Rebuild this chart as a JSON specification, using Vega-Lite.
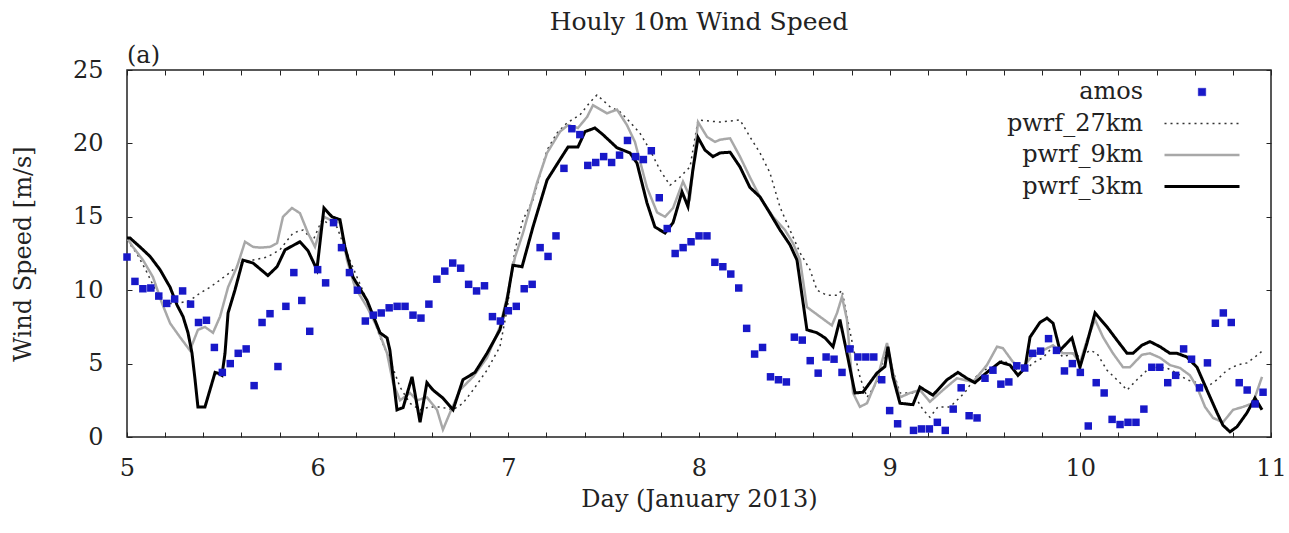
{
  "$schema": "https://vega.github.io/schema/vega-lite/v6.json",
  "width": 1144,
  "height": 367,
  "autosize": {"type": "none"},
  "padding": {"left": 127, "top": 70, "right": 18, "bottom": 96},
  "background": "white",
  "title": {"text": "Houly 10m Wind Speed", "font": "DejaVu Serif", "fontSize": 25, "fontWeight": "normal", "color": "#222", "anchor": "middle", "offset": 9},
  "config": {
    "view": {"stroke": "#222", "strokeWidth": 1.5},
    "axis": {"grid": false, "domain": false, "tickColor": "#222", "tickWidth": 1, "labelFont": "DejaVu Serif", "labelFontSize": 24, "labelColor": "#222", "titleFont": "DejaVu Serif", "titleFontSize": 24, "titleFontWeight": "normal", "titleColor": "#222"},
    "legend": {"orient": "none", "legendX": 1063, "legendY": 10, "padding": 0, "labelFont": "DejaVu Serif", "labelFontSize": 24, "labelColor": "#222", "labelAlign": "right", "labelOffset": -71, "rowPadding": 7.5}
  },
  "datasets": {
    "amos": [
      {"day":5.0,"speed":12.26,"series":"amos"},{"day":5.0417,"speed":10.6,"series":"amos"},{"day":5.0833,"speed":10.1,"series":"amos"},{"day":5.125,"speed":10.15,"series":"amos"},{"day":5.1667,"speed":9.6,"series":"amos"},{"day":5.2083,"speed":9.1,"series":"amos"},{"day":5.25,"speed":9.4,"series":"amos"},{"day":5.2917,"speed":9.95,"series":"amos"},{"day":5.3333,"speed":9.05,"series":"amos"},{"day":5.375,"speed":7.8,"series":"amos"},{"day":5.4167,"speed":7.95,"series":"amos"},{"day":5.4583,"speed":6.1,"series":"amos"},{"day":5.5,"speed":4.4,"series":"amos"},{"day":5.5417,"speed":5.0,"series":"amos"},{"day":5.5833,"speed":5.7,"series":"amos"},{"day":5.625,"speed":6.0,"series":"amos"},{"day":5.6667,"speed":3.5,"series":"amos"},{"day":5.7083,"speed":7.8,"series":"amos"},{"day":5.75,"speed":8.4,"series":"amos"},{"day":5.7917,"speed":4.8,"series":"amos"},{"day":5.8333,"speed":8.9,"series":"amos"},{"day":5.875,"speed":11.2,"series":"amos"},{"day":5.9167,"speed":9.3,"series":"amos"},{"day":5.9583,"speed":7.2,"series":"amos"},
      {"day":6.0,"speed":11.4,"series":"amos"},{"day":6.0417,"speed":10.5,"series":"amos"},{"day":6.0833,"speed":14.6,"series":"amos"},{"day":6.125,"speed":12.9,"series":"amos"},{"day":6.1667,"speed":11.2,"series":"amos"},{"day":6.2083,"speed":10.0,"series":"amos"},{"day":6.25,"speed":7.9,"series":"amos"},{"day":6.2917,"speed":8.3,"series":"amos"},{"day":6.3333,"speed":8.45,"series":"amos"},{"day":6.375,"speed":8.8,"series":"amos"},{"day":6.4167,"speed":8.9,"series":"amos"},{"day":6.4583,"speed":8.9,"series":"amos"},{"day":6.5,"speed":8.3,"series":"amos"},{"day":6.5417,"speed":8.1,"series":"amos"},{"day":6.5833,"speed":9.05,"series":"amos"},{"day":6.625,"speed":10.75,"series":"amos"},{"day":6.6667,"speed":11.3,"series":"amos"},{"day":6.7083,"speed":11.85,"series":"amos"},{"day":6.75,"speed":11.5,"series":"amos"},{"day":6.7917,"speed":10.4,"series":"amos"},{"day":6.8333,"speed":9.95,"series":"amos"},{"day":6.875,"speed":10.3,"series":"amos"},{"day":6.9167,"speed":8.2,"series":"amos"},{"day":6.9583,"speed":7.9,"series":"amos"},
      {"day":7.0,"speed":8.6,"series":"amos"},{"day":7.0417,"speed":8.9,"series":"amos"},{"day":7.0833,"speed":10.1,"series":"amos"},{"day":7.125,"speed":10.4,"series":"amos"},{"day":7.1667,"speed":12.9,"series":"amos"},{"day":7.2083,"speed":12.3,"series":"amos"},{"day":7.25,"speed":13.7,"series":"amos"},{"day":7.2917,"speed":18.3,"series":"amos"},{"day":7.3333,"speed":21.0,"series":"amos"},{"day":7.375,"speed":20.6,"series":"amos"},{"day":7.4167,"speed":18.5,"series":"amos"},{"day":7.4583,"speed":18.7,"series":"amos"},{"day":7.5,"speed":19.1,"series":"amos"},{"day":7.5417,"speed":18.7,"series":"amos"},{"day":7.5833,"speed":19.2,"series":"amos"},{"day":7.625,"speed":20.2,"series":"amos"},{"day":7.6667,"speed":19.1,"series":"amos"},{"day":7.7083,"speed":18.9,"series":"amos"},{"day":7.75,"speed":19.5,"series":"amos"},{"day":7.7917,"speed":16.3,"series":"amos"},{"day":7.8333,"speed":14.2,"series":"amos"},{"day":7.875,"speed":12.5,"series":"amos"},{"day":7.9167,"speed":12.9,"series":"amos"},{"day":7.9583,"speed":13.3,"series":"amos"},
      {"day":8.0,"speed":13.7,"series":"amos"},{"day":8.0417,"speed":13.7,"series":"amos"},{"day":8.0833,"speed":11.9,"series":"amos"},{"day":8.125,"speed":11.6,"series":"amos"},{"day":8.1667,"speed":11.1,"series":"amos"},{"day":8.2083,"speed":10.15,"series":"amos"},{"day":8.25,"speed":7.4,"series":"amos"},{"day":8.2917,"speed":5.65,"series":"amos"},{"day":8.3333,"speed":6.1,"series":"amos"},{"day":8.375,"speed":4.1,"series":"amos"},{"day":8.4167,"speed":3.9,"series":"amos"},{"day":8.4583,"speed":3.75,"series":"amos"},{"day":8.5,"speed":6.8,"series":"amos"},{"day":8.5417,"speed":6.6,"series":"amos"},{"day":8.5833,"speed":5.2,"series":"amos"},{"day":8.625,"speed":4.35,"series":"amos"},{"day":8.6667,"speed":5.45,"series":"amos"},{"day":8.7083,"speed":5.3,"series":"amos"},{"day":8.75,"speed":4.4,"series":"amos"},{"day":8.7917,"speed":6.0,"series":"amos"},{"day":8.8333,"speed":5.45,"series":"amos"},{"day":8.875,"speed":5.45,"series":"amos"},{"day":8.9167,"speed":5.45,"series":"amos"},{"day":8.9583,"speed":3.9,"series":"amos"},
      {"day":9.0,"speed":1.8,"series":"amos"},{"day":9.0417,"speed":0.9,"series":"amos"},{"day":9.125,"speed":0.45,"series":"amos"},{"day":9.1667,"speed":0.55,"series":"amos"},{"day":9.2083,"speed":0.55,"series":"amos"},{"day":9.25,"speed":1.0,"series":"amos"},{"day":9.2917,"speed":0.45,"series":"amos"},{"day":9.3333,"speed":1.9,"series":"amos"},{"day":9.375,"speed":3.35,"series":"amos"},{"day":9.4167,"speed":1.45,"series":"amos"},{"day":9.4583,"speed":1.3,"series":"amos"},{"day":9.5,"speed":4.0,"series":"amos"},{"day":9.5417,"speed":4.55,"series":"amos"},{"day":9.5833,"speed":3.6,"series":"amos"},{"day":9.625,"speed":3.75,"series":"amos"},{"day":9.6667,"speed":4.85,"series":"amos"},{"day":9.7083,"speed":4.7,"series":"amos"},{"day":9.75,"speed":5.7,"series":"amos"},{"day":9.7917,"speed":5.85,"series":"amos"},{"day":9.8333,"speed":6.7,"series":"amos"},{"day":9.875,"speed":5.9,"series":"amos"},{"day":9.9167,"speed":4.5,"series":"amos"},{"day":9.9583,"speed":5.0,"series":"amos"},
      {"day":10.0,"speed":4.4,"series":"amos"},{"day":10.0417,"speed":0.75,"series":"amos"},{"day":10.0833,"speed":3.7,"series":"amos"},{"day":10.125,"speed":3.0,"series":"amos"},{"day":10.1667,"speed":1.2,"series":"amos"},{"day":10.2083,"speed":0.85,"series":"amos"},{"day":10.25,"speed":1.0,"series":"amos"},{"day":10.2917,"speed":1.0,"series":"amos"},{"day":10.3333,"speed":1.9,"series":"amos"},{"day":10.375,"speed":4.75,"series":"amos"},{"day":10.4167,"speed":4.75,"series":"amos"},{"day":10.4583,"speed":3.7,"series":"amos"},{"day":10.5,"speed":4.2,"series":"amos"},{"day":10.5417,"speed":6.0,"series":"amos"},{"day":10.5833,"speed":5.3,"series":"amos"},{"day":10.625,"speed":3.35,"series":"amos"},{"day":10.6667,"speed":5.05,"series":"amos"},{"day":10.7083,"speed":7.75,"series":"amos"},{"day":10.75,"speed":8.45,"series":"amos"},{"day":10.7917,"speed":7.8,"series":"amos"},{"day":10.8333,"speed":3.7,"series":"amos"},{"day":10.875,"speed":3.2,"series":"amos"},{"day":10.9167,"speed":2.25,"series":"amos"},{"day":10.9583,"speed":3.05,"series":"amos"}
    ],
    "model": [
      {"day":5.0,"speed":13.4,"series":"pwrf_27km"},{"day":5.052,"speed":12.5,"series":"pwrf_27km"},{"day":5.105,"speed":11.2,"series":"pwrf_27km"},{"day":5.157,"speed":9.8,"series":"pwrf_27km"},{"day":5.21,"speed":9.1,"series":"pwrf_27km"},{"day":5.267,"speed":9.1,"series":"pwrf_27km"},{"day":5.33,"speed":9.3,"series":"pwrf_27km"},{"day":5.383,"speed":9.8,"series":"pwrf_27km"},{"day":5.435,"speed":10.2,"series":"pwrf_27km"},{"day":5.488,"speed":10.7,"series":"pwrf_27km"},{"day":5.54,"speed":11.2,"series":"pwrf_27km"},{"day":5.593,"speed":11.85,"series":"pwrf_27km"},{"day":5.661,"speed":12.05,"series":"pwrf_27km"},{"day":5.734,"speed":12.25,"series":"pwrf_27km"},{"day":5.802,"speed":12.75,"series":"pwrf_27km"},{"day":5.871,"speed":13.9,"series":"pwrf_27km"},{"day":5.923,"speed":14.1,"series":"pwrf_27km"},{"day":5.976,"speed":13.4,"series":"pwrf_27km"},{"day":6.023,"speed":14.8,"series":"pwrf_27km"},{"day":6.049,"speed":14.6,"series":"pwrf_27km"},{"day":6.101,"speed":14.3,"series":"pwrf_27km"},{"day":6.154,"speed":12.5,"series":"pwrf_27km"},{"day":6.206,"speed":10.9,"series":"pwrf_27km"},{"day":6.259,"speed":9.3,"series":"pwrf_27km"},{"day":6.327,"speed":6.8,"series":"pwrf_27km"},{"day":6.379,"speed":5.25,"series":"pwrf_27km"},{"day":6.432,"speed":3.4,"series":"pwrf_27km"},{"day":6.484,"speed":2.3,"series":"pwrf_27km"},{"day":6.537,"speed":1.85,"series":"pwrf_27km"},{"day":6.589,"speed":2.05,"series":"pwrf_27km"},{"day":6.642,"speed":2.05,"series":"pwrf_27km"},{"day":6.71,"speed":1.85,"series":"pwrf_27km"},{"day":6.762,"speed":2.3,"series":"pwrf_27km"},{"day":6.815,"speed":3.2,"series":"pwrf_27km"},{"day":6.888,"speed":4.55,"series":"pwrf_27km"},{"day":6.956,"speed":6.15,"series":"pwrf_27km"},{"day":6.993,"speed":8.65,"series":"pwrf_27km"},{"day":7.035,"speed":12.75,"series":"pwrf_27km"},{"day":7.077,"speed":14.8,"series":"pwrf_27km"},{"day":7.129,"speed":16.15,"series":"pwrf_27km"},{"day":7.203,"speed":19.55,"series":"pwrf_27km"},{"day":7.255,"speed":20.7,"series":"pwrf_27km"},{"day":7.308,"speed":21.4,"series":"pwrf_27km"},{"day":7.376,"speed":21.95,"series":"pwrf_27km"},{"day":7.428,"speed":22.8,"series":"pwrf_27km"},{"day":7.465,"speed":23.3,"series":"pwrf_27km"},{"day":7.533,"speed":22.5,"series":"pwrf_27km"},{"day":7.586,"speed":22.15,"series":"pwrf_27km"},{"day":7.638,"speed":21.45,"series":"pwrf_27km"},{"day":7.69,"speed":20.7,"series":"pwrf_27km"},{"day":7.743,"speed":19.55,"series":"pwrf_27km"},{"day":7.795,"speed":18.2,"series":"pwrf_27km"},{"day":7.848,"speed":17.15,"series":"pwrf_27km"},{"day":7.9,"speed":17.7,"series":"pwrf_27km"},{"day":7.953,"speed":18.4,"series":"pwrf_27km"},{"day":7.995,"speed":21.6,"series":"pwrf_27km"},{"day":8.11,"speed":21.45,"series":"pwrf_27km"},{"day":8.215,"speed":21.6,"series":"pwrf_27km"},{"day":8.267,"speed":20.45,"series":"pwrf_27km"},{"day":8.32,"speed":19.35,"series":"pwrf_27km"},{"day":8.372,"speed":18.0,"series":"pwrf_27km"},{"day":8.425,"speed":15.65,"series":"pwrf_27km"},{"day":8.477,"speed":14.1,"series":"pwrf_27km"},{"day":8.53,"speed":12.55,"series":"pwrf_27km"},{"day":8.582,"speed":11.4,"series":"pwrf_27km"},{"day":8.619,"speed":10.0,"series":"pwrf_27km"},{"day":8.671,"speed":9.65,"series":"pwrf_27km"},{"day":8.724,"speed":9.65,"series":"pwrf_27km"},{"day":8.75,"speed":10.0,"series":"pwrf_27km"},{"day":8.776,"speed":8.2,"series":"pwrf_27km"},{"day":8.808,"speed":6.15,"series":"pwrf_27km"},{"day":8.844,"speed":4.1,"series":"pwrf_27km"},{"day":8.881,"speed":2.7,"series":"pwrf_27km"},{"day":8.933,"speed":3.7,"series":"pwrf_27km"},{"day":8.986,"speed":6.15,"series":"pwrf_27km"},{"day":9.017,"speed":4.55,"series":"pwrf_27km"},{"day":9.054,"speed":3.0,"series":"pwrf_27km"},{"day":9.122,"speed":3.0,"series":"pwrf_27km"},{"day":9.175,"speed":1.85,"series":"pwrf_27km"},{"day":9.211,"speed":1.35,"series":"pwrf_27km"},{"day":9.253,"speed":2.05,"series":"pwrf_27km"},{"day":9.316,"speed":2.05,"series":"pwrf_27km"},{"day":9.369,"speed":2.7,"series":"pwrf_27km"},{"day":9.405,"speed":3.2,"series":"pwrf_27km"},{"day":9.437,"speed":3.9,"series":"pwrf_27km"},{"day":9.489,"speed":4.55,"series":"pwrf_27km"},{"day":9.542,"speed":4.75,"series":"pwrf_27km"},{"day":9.594,"speed":5.25,"series":"pwrf_27km"},{"day":9.647,"speed":4.75,"series":"pwrf_27km"},{"day":9.699,"speed":4.4,"series":"pwrf_27km"},{"day":9.752,"speed":5.05,"series":"pwrf_27km"},{"day":9.804,"speed":5.4,"series":"pwrf_27km"},{"day":9.857,"speed":6.15,"series":"pwrf_27km"},{"day":9.909,"speed":5.45,"series":"pwrf_27km"},{"day":9.961,"speed":5.7,"series":"pwrf_27km"},{"day":9.998,"speed":5.45,"series":"pwrf_27km"},{"day":10.051,"speed":5.9,"series":"pwrf_27km"},{"day":10.087,"speed":5.7,"series":"pwrf_27km"},{"day":10.14,"speed":4.55,"series":"pwrf_27km"},{"day":10.192,"speed":3.9,"series":"pwrf_27km"},{"day":10.245,"speed":3.2,"series":"pwrf_27km"},{"day":10.297,"speed":3.9,"series":"pwrf_27km"},{"day":10.35,"speed":4.55,"series":"pwrf_27km"},{"day":10.402,"speed":4.75,"series":"pwrf_27km"},{"day":10.454,"speed":4.7,"series":"pwrf_27km"},{"day":10.507,"speed":4.35,"series":"pwrf_27km"},{"day":10.559,"speed":3.9,"series":"pwrf_27km"},{"day":10.612,"speed":3.7,"series":"pwrf_27km"},{"day":10.664,"speed":3.4,"series":"pwrf_27km"},{"day":10.717,"speed":3.9,"series":"pwrf_27km"},{"day":10.769,"speed":4.55,"series":"pwrf_27km"},{"day":10.822,"speed":4.9,"series":"pwrf_27km"},{"day":10.874,"speed":5.05,"series":"pwrf_27km"},{"day":10.916,"speed":5.45,"series":"pwrf_27km"},{"day":10.958,"speed":5.9,"series":"pwrf_27km"},
      {"day":5.0,"speed":13.55,"series":"pwrf_9km"},{"day":5.031,"speed":12.95,"series":"pwrf_9km"},{"day":5.084,"speed":12.05,"series":"pwrf_9km"},{"day":5.136,"speed":10.9,"series":"pwrf_9km"},{"day":5.184,"speed":9.1,"series":"pwrf_9km"},{"day":5.226,"speed":7.75,"series":"pwrf_9km"},{"day":5.278,"speed":6.8,"series":"pwrf_9km"},{"day":5.33,"speed":5.9,"series":"pwrf_9km"},{"day":5.372,"speed":7.3,"series":"pwrf_9km"},{"day":5.409,"speed":7.5,"series":"pwrf_9km"},{"day":5.451,"speed":7.1,"series":"pwrf_9km"},{"day":5.488,"speed":8.2,"series":"pwrf_9km"},{"day":5.53,"speed":10.2,"series":"pwrf_9km"},{"day":5.577,"speed":11.6,"series":"pwrf_9km"},{"day":5.619,"speed":13.3,"series":"pwrf_9km"},{"day":5.661,"speed":12.95,"series":"pwrf_9km"},{"day":5.698,"speed":12.9,"series":"pwrf_9km"},{"day":5.75,"speed":12.95,"series":"pwrf_9km"},{"day":5.787,"speed":13.2,"series":"pwrf_9km"},{"day":5.818,"speed":15.0,"series":"pwrf_9km"},{"day":5.865,"speed":15.6,"series":"pwrf_9km"},{"day":5.907,"speed":15.25,"series":"pwrf_9km"},{"day":5.949,"speed":13.9,"series":"pwrf_9km"},{"day":5.986,"speed":12.95,"series":"pwrf_9km"},{"day":6.033,"speed":15.0,"series":"pwrf_9km"},{"day":6.065,"speed":14.8,"series":"pwrf_9km"},{"day":6.117,"speed":14.6,"series":"pwrf_9km"},{"day":6.154,"speed":12.05,"series":"pwrf_9km"},{"day":6.196,"speed":10.2,"series":"pwrf_9km"},{"day":6.259,"speed":8.85,"series":"pwrf_9km"},{"day":6.311,"speed":7.5,"series":"pwrf_9km"},{"day":6.364,"speed":5.7,"series":"pwrf_9km"},{"day":6.395,"speed":3.7,"series":"pwrf_9km"},{"day":6.432,"speed":2.5,"series":"pwrf_9km"},{"day":6.484,"speed":3.0,"series":"pwrf_9km"},{"day":6.521,"speed":2.5,"series":"pwrf_9km"},{"day":6.573,"speed":2.7,"series":"pwrf_9km"},{"day":6.626,"speed":1.85,"series":"pwrf_9km"},{"day":6.657,"speed":0.5,"series":"pwrf_9km"},{"day":6.694,"speed":1.65,"series":"pwrf_9km"},{"day":6.746,"speed":3.2,"series":"pwrf_9km"},{"day":6.815,"speed":4.1,"series":"pwrf_9km"},{"day":6.888,"speed":5.4,"series":"pwrf_9km"},{"day":6.956,"speed":7.5,"series":"pwrf_9km"},{"day":6.993,"speed":9.55,"series":"pwrf_9km"},{"day":7.035,"speed":12.25,"series":"pwrf_9km"},{"day":7.077,"speed":13.9,"series":"pwrf_9km"},{"day":7.15,"speed":17.3,"series":"pwrf_9km"},{"day":7.203,"speed":19.35,"series":"pwrf_9km"},{"day":7.271,"speed":20.8,"series":"pwrf_9km"},{"day":7.313,"speed":21.25,"series":"pwrf_9km"},{"day":7.365,"speed":21.05,"series":"pwrf_9km"},{"day":7.413,"speed":21.8,"series":"pwrf_9km"},{"day":7.444,"speed":22.6,"series":"pwrf_9km"},{"day":7.517,"speed":22.05,"series":"pwrf_9km"},{"day":7.57,"speed":22.3,"series":"pwrf_9km"},{"day":7.622,"speed":21.25,"series":"pwrf_9km"},{"day":7.664,"speed":20.1,"series":"pwrf_9km"},{"day":7.727,"speed":17.0,"series":"pwrf_9km"},{"day":7.78,"speed":15.3,"series":"pwrf_9km"},{"day":7.822,"speed":15.0,"series":"pwrf_9km"},{"day":7.864,"speed":15.6,"series":"pwrf_9km"},{"day":7.916,"speed":17.4,"series":"pwrf_9km"},{"day":7.953,"speed":16.35,"series":"pwrf_9km"},{"day":7.995,"speed":21.45,"series":"pwrf_9km"},{"day":8.042,"speed":20.45,"series":"pwrf_9km"},{"day":8.084,"speed":20.1,"series":"pwrf_9km"},{"day":8.11,"speed":20.25,"series":"pwrf_9km"},{"day":8.163,"speed":20.35,"series":"pwrf_9km"},{"day":8.215,"speed":19.1,"series":"pwrf_9km"},{"day":8.267,"speed":17.7,"series":"pwrf_9km"},{"day":8.32,"speed":16.35,"series":"pwrf_9km"},{"day":8.388,"speed":15.0,"series":"pwrf_9km"},{"day":8.451,"speed":14.1,"series":"pwrf_9km"},{"day":8.493,"speed":13.2,"series":"pwrf_9km"},{"day":8.53,"speed":12.05,"series":"pwrf_9km"},{"day":8.566,"speed":8.85,"series":"pwrf_9km"},{"day":8.634,"speed":8.2,"series":"pwrf_9km"},{"day":8.697,"speed":7.6,"series":"pwrf_9km"},{"day":8.724,"speed":8.45,"series":"pwrf_9km"},{"day":8.75,"speed":9.55,"series":"pwrf_9km"},{"day":8.776,"speed":8.0,"series":"pwrf_9km"},{"day":8.808,"speed":3.0,"series":"pwrf_9km"},{"day":8.844,"speed":2.05,"series":"pwrf_9km"},{"day":8.881,"speed":2.3,"series":"pwrf_9km"},{"day":8.933,"speed":3.9,"series":"pwrf_9km"},{"day":8.986,"speed":6.4,"series":"pwrf_9km"},{"day":9.017,"speed":4.4,"series":"pwrf_9km"},{"day":9.054,"speed":2.7,"series":"pwrf_9km"},{"day":9.107,"speed":3.0,"series":"pwrf_9km"},{"day":9.159,"speed":3.2,"series":"pwrf_9km"},{"day":9.211,"speed":2.4,"series":"pwrf_9km"},{"day":9.28,"speed":3.2,"series":"pwrf_9km"},{"day":9.353,"speed":4.0,"series":"pwrf_9km"},{"day":9.437,"speed":3.75,"series":"pwrf_9km"},{"day":9.51,"speed":4.9,"series":"pwrf_9km"},{"day":9.563,"speed":6.15,"series":"pwrf_9km"},{"day":9.594,"speed":6.05,"series":"pwrf_9km"},{"day":9.647,"speed":5.1,"series":"pwrf_9km"},{"day":9.699,"speed":4.75,"series":"pwrf_9km"},{"day":9.752,"speed":5.6,"series":"pwrf_9km"},{"day":9.804,"speed":5.9,"series":"pwrf_9km"},{"day":9.857,"speed":6.25,"series":"pwrf_9km"},{"day":9.909,"speed":5.7,"series":"pwrf_9km"},{"day":9.961,"speed":5.7,"series":"pwrf_9km"},{"day":9.998,"speed":5.05,"series":"pwrf_9km"},{"day":10.035,"speed":6.6,"series":"pwrf_9km"},{"day":10.077,"speed":8.0,"series":"pwrf_9km"},{"day":10.119,"speed":6.8,"series":"pwrf_9km"},{"day":10.171,"speed":5.7,"series":"pwrf_9km"},{"day":10.224,"speed":4.75,"series":"pwrf_9km"},{"day":10.26,"speed":4.75,"series":"pwrf_9km"},{"day":10.323,"speed":5.6,"series":"pwrf_9km"},{"day":10.365,"speed":5.7,"series":"pwrf_9km"},{"day":10.418,"speed":5.4,"series":"pwrf_9km"},{"day":10.47,"speed":4.9,"series":"pwrf_9km"},{"day":10.523,"speed":4.7,"series":"pwrf_9km"},{"day":10.575,"speed":4.2,"series":"pwrf_9km"},{"day":10.612,"speed":3.4,"series":"pwrf_9km"},{"day":10.654,"speed":2.05,"series":"pwrf_9km"},{"day":10.696,"speed":1.3,"series":"pwrf_9km"},{"day":10.748,"speed":1.0,"series":"pwrf_9km"},{"day":10.801,"speed":1.85,"series":"pwrf_9km"},{"day":10.853,"speed":2.05,"series":"pwrf_9km"},{"day":10.905,"speed":2.3,"series":"pwrf_9km"},{"day":10.953,"speed":4.1,"series":"pwrf_9km"},
      {"day":5.0,"speed":13.55,"series":"pwrf_3km"},{"day":5.016,"speed":13.55,"series":"pwrf_3km"},{"day":5.068,"speed":12.95,"series":"pwrf_3km"},{"day":5.121,"speed":12.3,"series":"pwrf_3km"},{"day":5.173,"speed":11.4,"series":"pwrf_3km"},{"day":5.226,"speed":10.2,"series":"pwrf_3km"},{"day":5.262,"speed":9.0,"series":"pwrf_3km"},{"day":5.294,"speed":8.2,"series":"pwrf_3km"},{"day":5.32,"speed":7.1,"series":"pwrf_3km"},{"day":5.341,"speed":5.7,"series":"pwrf_3km"},{"day":5.357,"speed":3.9,"series":"pwrf_3km"},{"day":5.372,"speed":2.05,"series":"pwrf_3km"},{"day":5.409,"speed":2.05,"series":"pwrf_3km"},{"day":5.435,"speed":3.2,"series":"pwrf_3km"},{"day":5.462,"speed":4.4,"series":"pwrf_3km"},{"day":5.477,"speed":4.35,"series":"pwrf_3km"},{"day":5.498,"speed":4.2,"series":"pwrf_3km"},{"day":5.514,"speed":5.7,"series":"pwrf_3km"},{"day":5.53,"speed":8.45,"series":"pwrf_3km"},{"day":5.566,"speed":10.0,"series":"pwrf_3km"},{"day":5.608,"speed":12.05,"series":"pwrf_3km"},{"day":5.661,"speed":11.85,"series":"pwrf_3km"},{"day":5.739,"speed":11.0,"series":"pwrf_3km"},{"day":5.787,"speed":11.6,"series":"pwrf_3km"},{"day":5.829,"speed":12.75,"series":"pwrf_3km"},{"day":5.907,"speed":13.3,"series":"pwrf_3km"},{"day":5.949,"speed":12.7,"series":"pwrf_3km"},{"day":5.996,"speed":11.4,"series":"pwrf_3km"},{"day":6.033,"speed":15.6,"series":"pwrf_3km"},{"day":6.075,"speed":15.0,"series":"pwrf_3km"},{"day":6.117,"speed":14.8,"series":"pwrf_3km"},{"day":6.143,"speed":12.95,"series":"pwrf_3km"},{"day":6.185,"speed":10.9,"series":"pwrf_3km"},{"day":6.259,"speed":9.3,"series":"pwrf_3km"},{"day":6.327,"speed":7.1,"series":"pwrf_3km"},{"day":6.364,"speed":6.75,"series":"pwrf_3km"},{"day":6.379,"speed":5.9,"series":"pwrf_3km"},{"day":6.416,"speed":1.85,"series":"pwrf_3km"},{"day":6.448,"speed":2.0,"series":"pwrf_3km"},{"day":6.495,"speed":4.1,"series":"pwrf_3km"},{"day":6.537,"speed":1.0,"series":"pwrf_3km"},{"day":6.573,"speed":3.7,"series":"pwrf_3km"},{"day":6.605,"speed":3.2,"series":"pwrf_3km"},{"day":6.657,"speed":2.65,"series":"pwrf_3km"},{"day":6.71,"speed":1.85,"series":"pwrf_3km"},{"day":6.762,"speed":3.9,"series":"pwrf_3km"},{"day":6.825,"speed":4.4,"series":"pwrf_3km"},{"day":6.888,"speed":5.7,"series":"pwrf_3km"},{"day":6.956,"speed":7.3,"series":"pwrf_3km"},{"day":6.993,"speed":9.3,"series":"pwrf_3km"},{"day":7.024,"speed":11.7,"series":"pwrf_3km"},{"day":7.072,"speed":11.6,"series":"pwrf_3km"},{"day":7.129,"speed":14.3,"series":"pwrf_3km"},{"day":7.203,"speed":17.5,"series":"pwrf_3km"},{"day":7.271,"speed":18.9,"series":"pwrf_3km"},{"day":7.313,"speed":19.75,"series":"pwrf_3km"},{"day":7.365,"speed":19.75,"series":"pwrf_3km"},{"day":7.402,"speed":20.8,"series":"pwrf_3km"},{"day":7.454,"speed":21.05,"series":"pwrf_3km"},{"day":7.496,"speed":20.6,"series":"pwrf_3km"},{"day":7.57,"speed":19.7,"series":"pwrf_3km"},{"day":7.638,"speed":19.35,"series":"pwrf_3km"},{"day":7.675,"speed":18.65,"series":"pwrf_3km"},{"day":7.727,"speed":15.95,"series":"pwrf_3km"},{"day":7.769,"speed":14.3,"series":"pwrf_3km"},{"day":7.822,"speed":13.9,"series":"pwrf_3km"},{"day":7.864,"speed":14.6,"series":"pwrf_3km"},{"day":7.911,"speed":16.7,"series":"pwrf_3km"},{"day":7.942,"speed":15.7,"series":"pwrf_3km"},{"day":7.968,"speed":18.2,"series":"pwrf_3km"},{"day":7.995,"speed":20.4,"series":"pwrf_3km"},{"day":8.031,"speed":19.55,"series":"pwrf_3km"},{"day":8.073,"speed":19.1,"series":"pwrf_3km"},{"day":8.11,"speed":19.35,"series":"pwrf_3km"},{"day":8.163,"speed":19.4,"series":"pwrf_3km"},{"day":8.215,"speed":18.4,"series":"pwrf_3km"},{"day":8.267,"speed":17.0,"series":"pwrf_3km"},{"day":8.32,"speed":16.35,"series":"pwrf_3km"},{"day":8.372,"speed":15.25,"series":"pwrf_3km"},{"day":8.425,"speed":14.1,"series":"pwrf_3km"},{"day":8.477,"speed":13.1,"series":"pwrf_3km"},{"day":8.514,"speed":12.05,"series":"pwrf_3km"},{"day":8.566,"speed":7.3,"series":"pwrf_3km"},{"day":8.619,"speed":7.1,"series":"pwrf_3km"},{"day":8.661,"speed":6.75,"series":"pwrf_3km"},{"day":8.703,"speed":6.15,"series":"pwrf_3km"},{"day":8.739,"speed":8.0,"series":"pwrf_3km"},{"day":8.776,"speed":5.7,"series":"pwrf_3km"},{"day":8.818,"speed":3.0,"series":"pwrf_3km"},{"day":8.86,"speed":3.05,"series":"pwrf_3km"},{"day":8.933,"speed":4.35,"series":"pwrf_3km"},{"day":8.975,"speed":4.8,"series":"pwrf_3km"},{"day":8.991,"speed":6.15,"series":"pwrf_3km"},{"day":9.017,"speed":4.1,"series":"pwrf_3km"},{"day":9.054,"speed":2.3,"series":"pwrf_3km"},{"day":9.122,"speed":2.2,"series":"pwrf_3km"},{"day":9.159,"speed":3.4,"series":"pwrf_3km"},{"day":9.227,"speed":2.85,"series":"pwrf_3km"},{"day":9.301,"speed":3.9,"series":"pwrf_3km"},{"day":9.358,"speed":4.4,"series":"pwrf_3km"},{"day":9.405,"speed":4.0,"series":"pwrf_3km"},{"day":9.447,"speed":3.7,"series":"pwrf_3km"},{"day":9.51,"speed":4.4,"series":"pwrf_3km"},{"day":9.579,"speed":5.1,"series":"pwrf_3km"},{"day":9.631,"speed":4.9,"series":"pwrf_3km"},{"day":9.673,"speed":4.2,"series":"pwrf_3km"},{"day":9.71,"speed":4.7,"series":"pwrf_3km"},{"day":9.736,"speed":6.8,"series":"pwrf_3km"},{"day":9.788,"speed":7.8,"series":"pwrf_3km"},{"day":9.825,"speed":8.1,"series":"pwrf_3km"},{"day":9.857,"speed":7.75,"series":"pwrf_3km"},{"day":9.893,"speed":5.9,"series":"pwrf_3km"},{"day":9.93,"speed":6.4,"series":"pwrf_3km"},{"day":9.956,"speed":6.75,"series":"pwrf_3km"},{"day":9.998,"speed":4.75,"series":"pwrf_3km"},{"day":10.035,"speed":6.4,"series":"pwrf_3km"},{"day":10.077,"speed":8.45,"series":"pwrf_3km"},{"day":10.14,"speed":7.5,"series":"pwrf_3km"},{"day":10.192,"speed":6.6,"series":"pwrf_3km"},{"day":10.245,"speed":5.7,"series":"pwrf_3km"},{"day":10.276,"speed":5.7,"series":"pwrf_3km"},{"day":10.323,"speed":6.25,"series":"pwrf_3km"},{"day":10.365,"speed":6.5,"series":"pwrf_3km"},{"day":10.418,"speed":6.15,"series":"pwrf_3km"},{"day":10.47,"speed":5.7,"series":"pwrf_3km"},{"day":10.507,"speed":5.7,"series":"pwrf_3km"},{"day":10.559,"speed":5.45,"series":"pwrf_3km"},{"day":10.612,"speed":4.75,"series":"pwrf_3km"},{"day":10.664,"speed":3.2,"series":"pwrf_3km"},{"day":10.717,"speed":1.65,"series":"pwrf_3km"},{"day":10.748,"speed":0.8,"series":"pwrf_3km"},{"day":10.785,"speed":0.35,"series":"pwrf_3km"},{"day":10.822,"speed":0.7,"series":"pwrf_3km"},{"day":10.874,"speed":1.65,"series":"pwrf_3km"},{"day":10.916,"speed":2.65,"series":"pwrf_3km"},{"day":10.953,"speed":1.85,"series":"pwrf_3km"}
    ],
    "label": [{"day": 5, "speed": 25, "text": "(a)"}]
  },
  "resolve": {"axis": {"x": "independent", "y": "independent"}},
  "layer": [
    {
      "data": {"name": "model"},
      "mark": {"type": "line", "clip": true},
      "encoding": {
        "x": {"field": "day", "type": "quantitative", "scale": {"domain": [5, 11], "nice": false, "zero": false},
              "axis": {"orient": "top", "values": [5,5.2,5.4,5.6,5.8,6,6.2,6.4,6.6,6.8,7,7.2,7.4,7.6,7.8,8,8.2,8.4,8.6,8.8,9,9.2,9.4,9.6,9.8,10,10.2,10.4,10.6,10.8,11], "labels": false, "tickSize": -5, "title": null}},
        "y": {"field": "speed", "type": "quantitative", "scale": {"domain": [0, 25], "nice": false, "zero": true},
              "axis": {"orient": "right", "values": [0,5,10,15,20,25], "labels": false, "tickSize": -5, "title": null}},
        "detail": {"field": "series"},
        "color": {"field": "series", "type": "nominal", "title": null,
                  "scale": {"domain": ["amos", "pwrf_27km", "pwrf_9km", "pwrf_3km"], "range": ["#1818c8", "#333333", "#a8a8a8", "#000000"]}},
        "strokeDash": {"field": "series", "type": "nominal", "title": null,
                  "scale": {"domain": ["amos", "pwrf_27km", "pwrf_9km", "pwrf_3km"], "range": [[1,0], [2,4], [1,0], [1,0]]}},
        "strokeWidth": {"field": "series", "type": "nominal", "title": null,
                  "scale": {"type": "ordinal", "domain": ["amos", "pwrf_27km", "pwrf_9km", "pwrf_3km"], "range": [0.5, 1.5, 2.5, 3]}}
      }
    },
    {
      "data": {"name": "amos"},
      "mark": {"type": "point", "filled": true, "opacity": 1},
      "encoding": {
        "x": {"field": "day", "type": "quantitative",
              "axis": {"orient": "bottom", "values": [5,5.2,5.4,5.6,5.8,6,6.2,6.4,6.6,6.8,7,7.2,7.4,7.6,7.8,8,8.2,8.4,8.6,8.8,9,9.2,9.4,9.6,9.8,10,10.2,10.4,10.6,10.8,11], "labelExpr": "abs(datum.value - round(datum.value)) < 0.01 ? format(datum.value, 'd') : ''", "tickSize": -5, "labelPadding": 24, "title": "Day (January 2013)", "titlePadding": 7, "labelFlush": false, "labelOverlap": false}},
        "y": {"field": "speed", "type": "quantitative",
              "axis": {"orient": "left", "values": [0,5,10,15,20,25], "tickSize": -5, "labelPadding": 29, "title": "Wind Speed [m/s]", "titlePadding": 37}},
        "color": {"field": "series", "type": "nominal", "title": null},
        "shape": {"field": "series", "type": "nominal", "title": null,
                  "scale": {"domain": ["amos", "pwrf_27km", "pwrf_9km", "pwrf_3km"], "range": ["square", "M-5,0L5,0", "M-5,0L5,0", "M-5,0L5,0"]}},
        "size": {"field": "series", "type": "nominal", "title": null,
                  "scale": {"type": "ordinal", "domain": ["amos", "pwrf_27km", "pwrf_9km", "pwrf_3km"], "range": [56, 225, 225, 225]}}
      }
    },
    {
      "data": {"name": "label"},
      "mark": {"type": "text", "align": "left", "baseline": "bottom", "dy": -2, "font": "DejaVu Serif", "fontSize": 24, "color": "#222"},
      "encoding": {
        "x": {"field": "day", "type": "quantitative", "axis": null},
        "y": {"field": "speed", "type": "quantitative", "axis": null},
        "text": {"field": "text"}
      }
    }
  ]
}
